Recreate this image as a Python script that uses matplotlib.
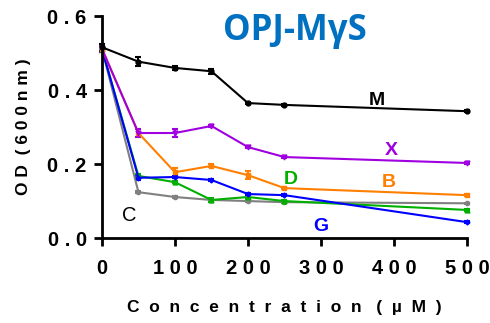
import matplotlib
matplotlib.use('Agg')
import matplotlib.pyplot as plt

# 数据
conc = [0, 50, 100, 150, 200, 250, 500]
od_M = [0.516, 0.477, 0.460, 0.451, 0.365, 0.360, 0.343]
od_X = [0.512, 0.284, 0.284, 0.303, 0.246, 0.219, 0.203]
od_B = [0.512, 0.284, 0.178, 0.195, 0.170, 0.135, 0.116]
od_G = [0.512, 0.163, 0.165, 0.157, 0.119, 0.116, 0.043]
od_D = [0.512, 0.168, 0.151, 0.103, 0.111, 0.100, 0.076]
od_C = [0.512, 0.124, 0.111, 0.103, 0.100, 0.097, 0.094]
err_M = [0.010, 0.012, 0.006, 0.007, 0.003, 0.002, 0.002]
err_X = [0.008, 0.010, 0.010, 0.004, 0.003, 0.002, 0.002]
err_B = [0.008, 0.010, 0.012, 0.004, 0.010, 0.003, 0.002]
err_G = [0.008, 0.006, 0.003, 0.003, 0.003, 0.002, 0.002]
err_D = [0.008, 0.004, 0.003, 0.006, 0.005, 0.002, 0.002]
err_C = [0.008, 0.003, 0.003, 0.003, 0.003, 0.002, 0.002]
x_ticks = [0, 100, 200, 300, 400, 500]
y_ticks = [0.0, 0.2, 0.4, 0.6]

plt.rcParams['font.family'] = ['Liberation Sans', 'DejaVu Sans']

fig = plt.figure(figsize=(4.9, 3.23), dpi=100)
ax = fig.add_axes([0.208, 0.263, 0.745, 0.687])

series = [
    (od_C, err_C, '#808080', 'o', 3),
    (od_D, err_D, '#00B000', '^', 3.5),
    (od_G, err_G, '#0000FF', 'D', 2.5),
    (od_B, err_B, '#FF7F00', 's', 3.5),
    (od_X, err_X, '#A000E0', 'v', 3.5),
    (od_M, err_M, '#000000', 'o', 3.5),
]
for y, e, c, m, ms in series:
    ax.errorbar(conc, y, yerr=e, color=c, marker=m, markersize=ms, linewidth=1.5,
                elinewidth=1.5, capsize=2.5, capthick=1.5, clip_on=False)

ax.set_xlim(0, 500)
ax.set_ylim(0, 0.6)
ax.set_xticks(x_ticks)
ax.set_yticks(y_ticks)
ax.set_xticklabels([' '.join(str(v)) for v in x_ticks], fontsize=14.5, fontweight='bold')
ax.set_yticklabels([' '.join('%.1f' % v) for v in y_ticks], fontsize=14.5, fontweight='bold')
for s in ['top', 'right']:
    ax.spines[s].set_visible(False)
for s in ['left', 'bottom']:
    ax.spines[s].set_linewidth(2)
ax.tick_params(width=2, length=6)
ax.tick_params(axis='x', pad=9)
ax.tick_params(axis='y', pad=5)

ax.set_xlabel('  '.join('Concentration') + '   (  µ  M  )', fontsize=12.5, fontweight='bold', labelpad=16)
ax.set_ylabel('O D  ( 6 0 0 n m )', fontsize=12.5, fontweight='bold', labelpad=12)

# 曲线标注
ax.text(376, 0.373, 'M', color='#000000', fontsize=14, fontweight='bold', ha='center', va='center')
ax.text(397, 0.238, 'X', color='#A000E0', fontsize=14, fontweight='bold', ha='center', va='center')
ax.text(393, 0.149, 'B', color='#FF7F00', fontsize=14, fontweight='bold', ha='center', va='center')
ax.text(258, 0.157, 'D', color='#00B000', fontsize=14, fontweight='bold', ha='center', va='center')
ax.text(300, 0.030, 'G', color='#0000FF', fontsize=14, fontweight='bold', ha='center', va='center')
ax.text(38, 0.062, 'C', color='#000000', fontsize=14.5, ha='center', va='center')

fig.text(0.602, 0.905, 'OPJ-MγS', color='#0070C0', fontsize=25, fontweight='bold',
         family=['Open Sans', 'DejaVu Sans'], ha='center', va='center')

plt.savefig('out.png', dpi=100)
